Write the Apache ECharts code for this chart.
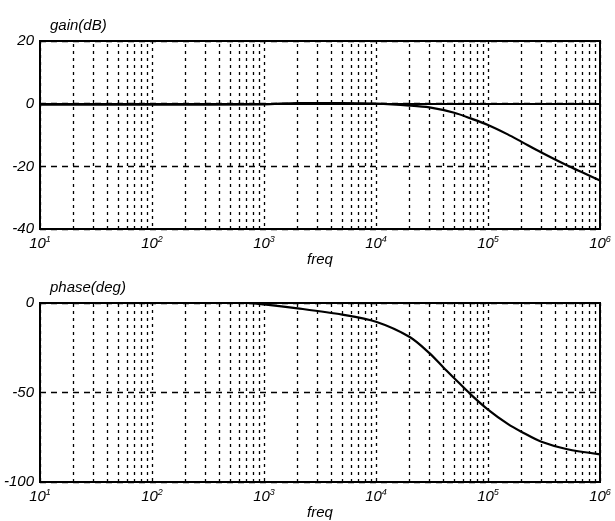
<!DOCTYPE html>
<html>
<head>
<meta charset="utf-8">
<script src="https://cdn.jsdelivr.net/npm/echarts@6/dist/echarts.min.js"></script>
<style>
  html, body { margin: 0; padding: 0; background: #fff; }
  #chart { width: 615px; height: 521px; }
</style>
</head>
<body>
<div id="chart"></div>
<script>
// gain curve
const gainFreq = [10, 100, 1000, 2000, 5000, 1e4, 2e4, 3e4, 5e4, 7e4, 1e5, 1.5e5, 2e5, 3e5, 5e5, 7e5, 1e6];
const gainDb = [-0.3, -0.3, -0.2, 0.2, 0.2, 0, -0.6, -1.2, -2.9, -4.7, -6.8, -9.8, -12.2, -15.6, -19.6, -22, -24.5];

// phase curve
const phaseFreq = [10, 100, 700, 1000, 2000, 5000, 1e4, 2e4, 3e4, 4e4, 5e4, 7e4, 1e5, 1.5e5, 2e5, 3e5, 5e5, 1e6];
const phaseDeg = [0, 0, 0, -0.8, -3, -6.5, -10.5, -19, -28, -36, -42, -51, -59.5, -67.5, -72, -77.5, -81.5, -84.5];

// axes
const decadeExps = [1, 2, 3, 4, 5, 6];
const gainTicks = [20, 0, -20, -40];
const phaseTicks = [0, -50, -100];

// minor grid lines 2..9 x each decade
const minorFreqs = [];
decadeExps.slice(0, 5).forEach(e => {
    for (let k = 2; k <= 9; k++) minorFreqs.push(k * Math.pow(10, e));
});

const font = 'Liberation Sans, Arial, sans-serif';

function xAxisOf(gridIndex) {
    return {
        type: 'log',
        logBase: 10,
        gridIndex: gridIndex,
        min: 10,
        max: 1e6,
        name: 'freq',
        nameLocation: 'middle',
        nameGap: 20,
        nameTextStyle: { fontFamily: font, fontStyle: 'italic', fontSize: 15, color: '#000' },
        axisLine: { show: true, lineStyle: { color: '#000', width: 2 } },
        axisTick: { show: false },
        splitLine: { show: true, lineStyle: { color: '#000', type: [3, 4], width: 1.3 } },
        axisLabel: {
            margin: 6,
            color: '#000',
            formatter: v => {
                const e = Math.round(Math.log10(v));
                return decadeExps.indexOf(e) >= 0 ? '{b|10}{s|' + e + '}' : '';
            },
            rich: {
                b: { fontFamily: font, fontStyle: 'italic', fontSize: 15, color: '#000' },
                s: { fontFamily: font, fontStyle: 'italic', fontSize: 9, color: '#000', verticalAlign: 'top', padding: [0, 0, 8, 0] }
            }
        }
    };
}

function yAxisOf(gridIndex, name, ticks) {
    return {
        type: 'value',
        gridIndex: gridIndex,
        min: ticks[ticks.length - 1],
        max: ticks[0],
        interval: ticks[0] - ticks[1],
        name: name,
        nameLocation: 'end',
        nameGap: 8,
        nameTextStyle: { fontFamily: font, fontStyle: 'italic', fontSize: 15, color: '#000', align: 'left', padding: [0, 0, 0, 10] },
        axisLine: { show: true, lineStyle: { color: '#000', width: 2 } },
        axisTick: { show: false },
        splitLine: { show: true, lineStyle: { color: '#000', type: [6, 5], width: 1.3 } },
        axisLabel: { margin: 6, color: '#000', fontFamily: font, fontStyle: 'italic', fontSize: 15 }
    };
}

function curve(idx, freqs, vals) {
    return {
        type: 'line',
        xAxisIndex: idx,
        yAxisIndex: idx,
        data: freqs.map((f, i) => [f, vals[i]]),
        smooth: 0.3,
        symbol: 'none',
        lineStyle: { color: '#000', width: 2.2 },
        z: 5,
        markLine: {
            silent: true,
            symbol: 'none',
            label: { show: false },
            lineStyle: { color: '#000', type: [3, 4], width: 1.3 },
            data: minorFreqs.map(f => ({ xAxis: f }))
        }
    };
}

const chart = echarts.init(document.getElementById('chart'));
chart.setOption({
    animation: false,
    backgroundColor: '#fff',
    grid: [
        { left: 40, right: 15, top: 41, height: 188, show: true, borderColor: '#000', borderWidth: 2 },
        { left: 40, right: 15, top: 303, height: 186, show: true, borderColor: '#000', borderWidth: 2 }
    ],
    xAxis: [xAxisOf(0), xAxisOf(1)],
    yAxis: [yAxisOf(0, 'gain(dB)', gainTicks), yAxisOf(1, 'phase(deg)', phaseTicks)],
    series: [curve(0, gainFreq, gainDb), curve(1, phaseFreq, phaseDeg)]
});
</script>
</body>
</html>
